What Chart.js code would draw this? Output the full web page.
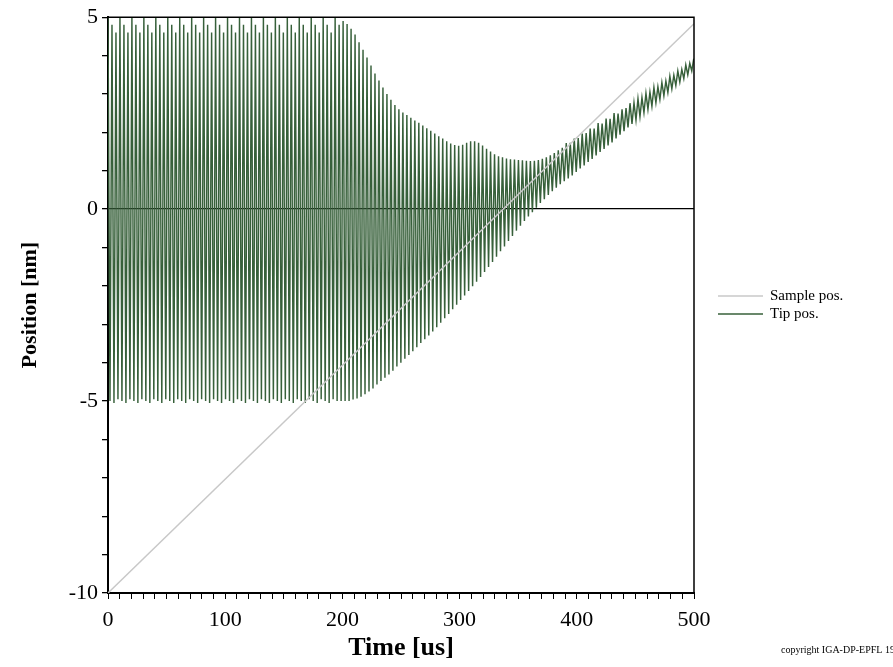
<!DOCTYPE html>
<html>
<head>
<meta charset="utf-8">
<script src="https://cdn.jsdelivr.net/npm/chart.js@4.4.1/dist/chart.umd.min.js"></script>
<style>
  html, body { margin: 0; padding: 0; background: #fff; }
  #wrap { width: 893px; height: 667px; position: relative; }
</style>
</head>
<body>
<div id="wrap"><canvas id="c" width="893" height="667"></canvas></div>
<script>
// ---- data ----
const xTickLabels = [0, 100, 200, 300, 400, 500];
const yTickLabels = [-10, -5, 0, 5];

// Sample position: straight ramp (end points)
const sampleTimes = [0, 500];
const sampleValues = [-10, 4.83];

// Tip position: one peak and one trough per oscillation cycle (cycle length tipPeriod us)
const tipPeriod = 3.4;
const tipPeaks = [
  5.0, 4.8, 4.6, 5.0, 4.8, 4.6, 5.0, 4.8, 4.6, 5.0,
  4.8, 4.6, 5.0, 4.8, 4.6, 5.0, 4.8, 4.6, 5.0, 4.8,
  4.6, 5.0, 4.8, 4.6, 5.0, 4.8, 4.6, 5.0, 4.8, 4.6,
  5.0, 4.8, 4.6, 5.0, 4.8, 4.6, 5.0, 4.8, 4.6, 5.0,
  4.8, 4.6, 5.0, 4.8, 4.6, 5.0, 4.8, 4.6, 5.0, 4.8,
  4.6, 5.0, 4.8, 4.6, 5.0, 4.8, 4.6, 5.0, 4.8, 4.9,
  4.82, 4.7, 4.55, 4.35, 4.15, 3.95, 3.74, 3.53, 3.35, 3.17,
  3.0, 2.85, 2.71, 2.6, 2.52, 2.45, 2.38, 2.31, 2.25, 2.18,
  2.11, 2.04, 1.97, 1.9, 1.84, 1.77, 1.71, 1.67, 1.65, 1.68,
  1.73, 1.77, 1.77, 1.73, 1.66, 1.57, 1.5, 1.43, 1.38, 1.35,
  1.32, 1.3, 1.29, 1.28, 1.27, 1.26, 1.25, 1.26, 1.28, 1.31,
  1.35, 1.4, 1.46, 1.53, 1.6, 1.72, 1.73, 1.84, 1.85, 1.97,
  1.98, 2.1, 2.1, 2.24, 2.23, 2.36, 2.35, 2.5, 2.49, 2.6,
  2.63, 2.76, 2.77, 2.88, 2.91, 3.02, 3.05, 3.17, 3.19, 3.3,
  3.34, 3.46, 3.49, 3.6, 3.64, 3.76, 3.8, 3.92
];
const tipTroughs = [
  -5.0, -5.05, -4.95, -5.0, -5.05, -4.95, -5.0, -5.05, -4.95, -5.0,
  -5.05, -4.95, -5.0, -5.05, -4.95, -5.0, -5.05, -4.95, -5.0, -5.05,
  -4.95, -5.0, -5.05, -4.95, -5.0, -5.05, -4.95, -5.0, -5.05, -4.95,
  -5.0, -5.05, -4.95, -5.0, -5.05, -4.95, -5.0, -5.05, -4.95, -5.0,
  -5.05, -4.95, -5.0, -5.05, -4.95, -5.0, -5.05, -4.95, -5.0, -5.05,
  -4.95, -5.0, -5.05, -4.95, -5.0, -5.05, -4.95, -5.0, -5.0, -5.0,
  -5.0, -4.96, -4.93, -4.89, -4.82, -4.75, -4.67, -4.57, -4.48, -4.39,
  -4.31, -4.21, -4.1, -4.0, -3.9, -3.8, -3.7, -3.6, -3.49, -3.39,
  -3.29, -3.19, -3.08, -2.96, -2.84, -2.73, -2.61, -2.49, -2.37, -2.25,
  -2.13, -2.01, -1.89, -1.77, -1.64, -1.51, -1.38, -1.24, -1.1, -0.97,
  -0.83, -0.7, -0.56, -0.43, -0.31, -0.19, -0.08, 0.04, 0.16, 0.26,
  0.37, 0.47, 0.56, 0.65, 0.73, 0.8, 0.88, 0.97, 1.06, 1.14,
  1.23, 1.31, 1.4, 1.49, 1.57, 1.66, 1.74, 1.84, 1.94, 2.03,
  2.13, 2.22, 2.32, 2.41, 2.51, 2.6, 2.68, 2.77, 2.86, 2.95,
  3.04, 3.13, 3.22, 3.31, 3.4, 3.5, 3.6
];

const seriesLabels = ['Sample pos.', 'Tip pos.'];
const seriesColors = ['#c8c8c8', '#37603a'];

// ---- build datasets ----
const samplePoints = sampleTimes.map((t, i) => ({ x: t, y: sampleValues[i] }));
const tipPoints = [];
tipPeaks.forEach((p, k) => {
  tipPoints.push({ x: k * tipPeriod, y: p });
  if (k < tipTroughs.length) tipPoints.push({ x: k * tipPeriod + tipPeriod / 2, y: tipTroughs[k] });
});

const minorX = [];
for (let v = 0; v <= 500; v += 10) minorX.push(v);
const minorY = [];
for (let v = -10; v <= 5; v += 1) minorY.push(v);

const SERIF = "'Liberation Serif', 'DejaVu Serif', serif";

const framePlugin = {
  id: 'frame',
  afterDraw(chart) {
    const { ctx, chartArea: a } = chart;
    ctx.save();
    ctx.strokeStyle = '#000';
    ctx.lineWidth = 1.5;
    ctx.beginPath();
    ctx.moveTo(a.left, a.top);
    ctx.lineTo(a.right, a.top);
    ctx.lineTo(a.right, a.bottom);
    ctx.stroke();

    // legend
    ctx.font = '15px ' + SERIF;
    ctx.textBaseline = 'middle';
    ctx.fillStyle = '#000';
    chart.data.datasets.forEach((ds, i) => {
      const y = 296 + i * 18;
      ctx.strokeStyle = ds.borderColor;
      ctx.lineWidth = 1.3;
      ctx.beginPath();
      ctx.moveTo(718, y);
      ctx.lineTo(763, y);
      ctx.stroke();
      ctx.fillText(ds.label, 770, y);
    });

    // copyright
    ctx.font = '10px ' + SERIF;
    ctx.textBaseline = 'middle';
    ctx.fillText('copyright IGA-DP-EPFL 1997', 781, 650);
    ctx.restore();
  }
};

new Chart(document.getElementById('c'), {
  type: 'line',
  data: {
    datasets: [
      {
        label: seriesLabels[0],
        data: samplePoints,
        borderColor: seriesColors[0],
        borderWidth: 1.5,
        pointRadius: 0,
        tension: 0
      },
      {
        label: seriesLabels[1],
        data: tipPoints,
        borderColor: seriesColors[1],
        borderWidth: 1.45,
        pointRadius: 0,
        tension: 0
      }
    ]
  },
  options: {
    responsive: false,
    animation: false,
    devicePixelRatio: 1,
    layout: { padding: { top: 15, right: 199, bottom: 0, left: 0 } },
    plugins: {
      legend: { display: false },
      tooltip: { enabled: false }
    },
    scales: {
      x: {
        type: 'linear',
        min: 0,
        max: 500,
        afterBuildTicks: s => { s.ticks = minorX.map(v => ({ value: v })); },
        afterFit: s => { s.height = 667 - 593; },
        ticks: {
          autoSkip: false,
          maxRotation: 0,
          padding: 8,
          color: '#000',
          font: { family: SERIF, size: 22 },
          callback: v => (xTickLabels.includes(v) ? String(v) : '')
        },
        grid: { drawOnChartArea: false, tickLength: 6, tickColor: '#000', tickWidth: 1 },
        border: { display: true, color: '#000', width: 2 },
        title: {
          display: true,
          text: 'Time [us]',
          color: '#000',
          font: { family: SERIF, size: 26, weight: 'bold' },
          padding: { top: 0, bottom: 3 }
        }
      },
      y: {
        type: 'linear',
        min: -10,
        max: 5,
        z: 1,
        afterBuildTicks: s => { s.ticks = minorY.map(v => ({ value: v })); },
        afterFit: s => { s.width = 108; },
        ticks: {
          autoSkip: false,
          padding: 4,
          color: '#000',
          font: { family: SERIF, size: 22 },
          callback: v => (yTickLabels.includes(v) ? String(v) : '')
        },
        grid: {
          drawOnChartArea: true,
          tickLength: 6,
          tickColor: '#000',
          color: c => (c.tick && c.tick.value === 0 ? '#000' : 'rgba(0,0,0,0)'),
          lineWidth: 1.3
        },
        border: { display: true, color: '#000', width: 2 },
        title: {
          display: true,
          text: 'Position [nm]',
          color: '#000',
          font: { family: SERIF, size: 22, weight: 'bold' },
          padding: { top: 17, bottom: 0 }
        }
      }
    }
  },
  plugins: [framePlugin]
});
</script>
</body>
</html>
